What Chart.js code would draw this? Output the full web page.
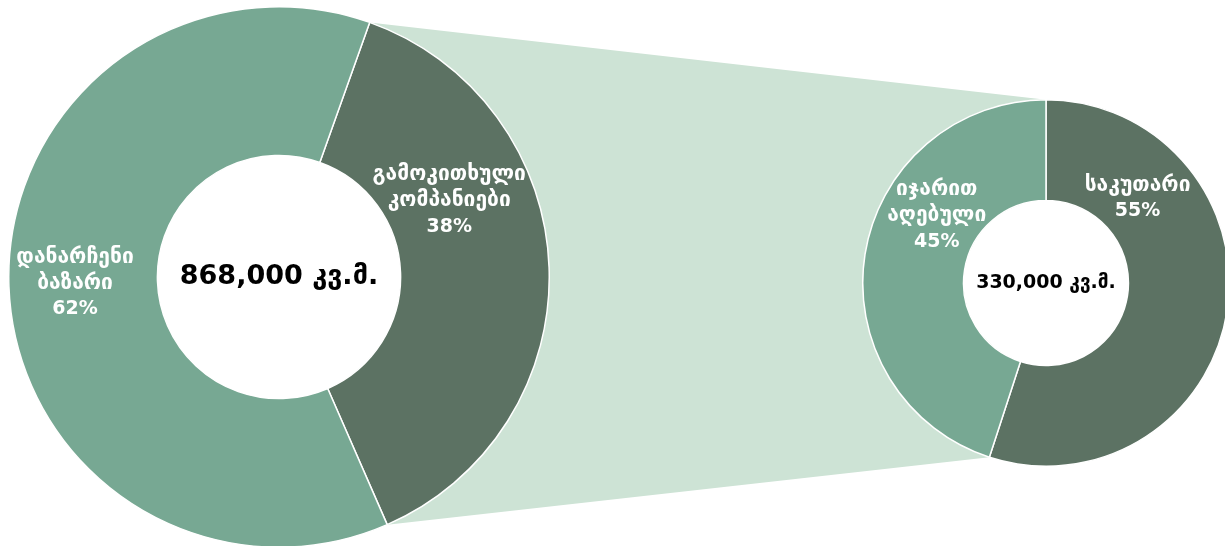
<!DOCTYPE html>
<html>
<head>
<meta charset="utf-8">
<script src="https://cdn.jsdelivr.net/npm/chart.js@4"></script>
<style>
  body { margin: 0; background: #fff; }
  #stage { position: relative; width: 1225px; height: 546px; overflow: hidden; }
  #bridge { position: absolute; left: 0; top: 0; }
  #leftChart { position: absolute; left: 8px; top: 6px; }
  #rightChart { position: absolute; left: 862px; top: 99px; }
</style>
</head>
<body>
<div id="stage">
  <canvas id="bridge" width="1225" height="546"></canvas>
  <canvas id="leftChart" width="542" height="542"></canvas>
  <canvas id="rightChart" width="368" height="368"></canvas>
</div>
<script>
// data
const leftLabels = ['გამოკითხული კომპანიები', 'დანარჩენი ბაზარი'];
const leftValues = [38, 62];
const leftTotal = '868,000 კვ.მ.';

const rightLabels = ['საკუთარი', 'იჯარით აღებული'];
const rightValues = [55, 45];
const rightTotal = '330,000 კვ.მ.';

const darkGreen = '#5c7263';
const midGreen = '#77a893';
const paleGreen = '#cde3d5';
const fontStack = '"DejaVu Sans", sans-serif';

let leftChart, rightChart;

// white hole, slice labels and the total in the middle
const textPlugin = {
    id: 'sliceText',
    beforeDatasetsDraw(chart) {
        const arc = chart.getDatasetMeta(0).data[0];
        if (!arc) return;
        const ctx = chart.ctx;
        ctx.save();
        ctx.fillStyle = '#ffffff';
        ctx.beginPath();
        ctx.arc(arc.x, arc.y, arc.innerRadius, 0, Math.PI * 2);
        ctx.fill();
        ctx.restore();
    },
    afterDraw(chart, args, opts) {
        const ctx = chart.ctx;
        const meta = chart.getDatasetMeta(0);
        const values = chart.data.datasets[0].data;
        ctx.save();
        ctx.textAlign = 'center';
        ctx.textBaseline = 'middle';
        ctx.fillStyle = '#ffffff';
        meta.data.forEach((arc, i) => {
            const spot = opts.spots[i];
            const a = (spot.angle - 90) * Math.PI / 180;
            const r = arc.outerRadius * spot.dist;
            const cx = arc.x + Math.cos(a) * r;
            const cy = arc.y + Math.sin(a) * r;
            const words = chart.data.labels[i].split(' ');
            const lines = words.concat([values[i] + '%']);
            const top = cy - (lines.length - 1) * opts.lineGap / 2;
            lines.forEach((line, k) => {
                const size = k < words.length ? opts.wordSize : opts.pctSize;
                ctx.font = 'bold ' + size + 'px ' + fontStack;
                ctx.fillText(line, cx, top + k * opts.lineGap);
            });
        });
        const arc0 = meta.data[0];
        ctx.fillStyle = '#000000';
        ctx.font = 'bold ' + opts.totalSize + 'px ' + fontStack;
        ctx.fillText(opts.total, arc0.x, arc0.y);
        ctx.restore();
        drawBridge();
    }
};

// pale band between the two doughnuts, taken from the dark slices
function drawBridge() {
    if (!leftChart || !rightChart) return;
    const c = document.getElementById('bridge');
    const ctx = c.getContext('2d');
    ctx.clearRect(0, 0, c.width, c.height);

    const edge = (chart, canvasId) => {
        const el = document.getElementById(canvasId);
        const arc = chart.getDatasetMeta(0).data[0];
        const ox = el.offsetLeft, oy = el.offsetTop;
        return {
            start: [ox + arc.x + Math.cos(arc.startAngle) * arc.outerRadius,
                    oy + arc.y + Math.sin(arc.startAngle) * arc.outerRadius],
            end: [ox + arc.x + Math.cos(arc.endAngle) * arc.outerRadius,
                  oy + arc.y + Math.sin(arc.endAngle) * arc.outerRadius]
        };
    };
    const l = edge(leftChart, 'leftChart');
    const r = edge(rightChart, 'rightChart');

    ctx.fillStyle = paleGreen;
    ctx.beginPath();
    ctx.moveTo(l.start[0], l.start[1]);
    ctx.lineTo(r.start[0], r.start[1]);
    ctx.lineTo(r.end[0], r.end[1]);
    ctx.lineTo(l.end[0], l.end[1]);
    ctx.closePath();
    ctx.fill();
}

function makeDoughnut(id, labels, values, rotation, textOpts) {
    return new Chart(document.getElementById(id), {
        type: 'doughnut',
        data: {
            labels: labels,
            datasets: [{
                data: values,
                backgroundColor: [darkGreen, midGreen],
                borderColor: '#ffffff',
                borderWidth: 1.5
            }]
        },
        options: {
            responsive: false,
            animation: false,
            cutout: '45%',
            rotation: rotation,
            layout: { padding: 0 },
            plugins: {
                legend: { display: false },
                tooltip: { enabled: false },
                sliceText: textOpts
            }
        },
        plugins: [textPlugin]
    });
}

leftChart = makeDoughnut('leftChart', leftLabels, leftValues, 19.6, {
    spots: [{ angle: 65.9, dist: 0.69 }, { angle: 268.3, dist: 0.755 }],
    wordSize: 21, pctSize: 19, lineGap: 26, totalSize: 27, total: leftTotal
});

rightChart = makeDoughnut('rightChart', rightLabels, rightValues, 0, {
    spots: [{ angle: 47.3, dist: 0.68 }, { angle: 301.6, dist: 0.70 }],
    wordSize: 21, pctSize: 19, lineGap: 26, totalSize: 19, total: rightTotal
});

drawBridge();
</script>
</body>
</html>
